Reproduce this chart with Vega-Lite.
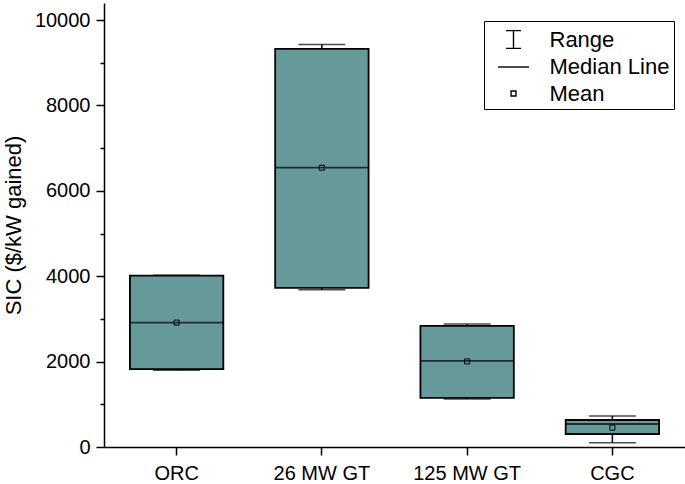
{
  "$schema": "https://vega.github.io/schema/vega-lite/v6.json",
  "width": 581,
  "height": 444,
  "autosize": {"type": "none"},
  "padding": {"left": 104, "top": 3, "right": 0, "bottom": 37},
  "background": "white",
  "config": {
    "view": {"stroke": null},
    "font": "Liberation Sans",
    "axis": {"domainColor": "black", "domainWidth": 1.5, "tickColor": "black", "tickWidth": 1.5, "labelColor": "black", "titleColor": "black", "grid": false, "labelFont": "Liberation Sans", "titleFont": "Liberation Sans"}
  },
  "datasets": {
    "boxes": [
      {"group": "ORC", "min": 1800, "q1": 1822, "median": 2914, "q3": 4016, "max": 4025, "mean": 2914},
      {"group": "26 MW GT", "min": 3681, "q1": 3728, "median": 6542, "q3": 9325, "max": 9426, "mean": 6542},
      {"group": "125 MW GT", "min": 1125, "q1": 1149, "median": 2016, "q3": 2837, "max": 2884, "mean": 2005},
      {"group": "CGC", "min": 101, "q1": 305, "median": 539, "q3": 633, "max": 727, "mean": 453}
    ],
    "legendItems": [
      {"item": "Range"},
      {"item": "Median Line"},
      {"item": "Mean"}
    ]
  },
  "layer": [
    {
      "data": {"name": "boxes"},
      "mark": {"type": "rule", "color": "black", "strokeWidth": 1.5},
      "encoding": {
        "x": {
          "field": "group", "type": "nominal", "sort": null,
          "scale": {"paddingInner": 0, "paddingOuter": 0},
          "axis": {"title": null, "labelAngle": 0, "labelFontSize": 20, "tickSize": 8, "labelPadding": 8, "domainWidth": 1.5}
        },
        "y": {
          "field": "min", "type": "quantitative",
          "scale": {"domain": [0, 10400], "nice": false, "zero": false},
          "axis": {
            "title": "SIC ($/kW gained)",
            "titleFontSize": 22, "titleFontWeight": "normal", "titlePadding": 9,
            "values": [0, 1000, 2000, 3000, 4000, 5000, 6000, 7000, 8000, 9000, 10000],
            "labelExpr": "datum.value % 2000 === 0 ? datum.label : ''",
            "format": "d",
            "labelFontSize": 20, "labelPadding": 6,
            "tickSize": {"condition": {"test": "datum.value % 2000 === 0", "value": 8}, "value": 4}
          }
        },
        "y2": {"field": "max"}
      }
    },
    {
      "data": {"name": "boxes"},
      "mark": {"type": "tick", "color": "black", "size": 47, "thickness": 1.5},
      "encoding": {
        "x": {"field": "group", "type": "nominal", "sort": null},
        "y": {"field": "max", "type": "quantitative"}
      }
    },
    {
      "data": {"name": "boxes"},
      "mark": {"type": "tick", "color": "black", "size": 47, "thickness": 1.5},
      "encoding": {
        "x": {"field": "group", "type": "nominal", "sort": null},
        "y": {"field": "min", "type": "quantitative"}
      }
    },
    {
      "data": {"name": "boxes"},
      "mark": {"type": "bar", "fill": "#669999", "stroke": "black", "strokeWidth": 1.8, "width": {"band": 0.643}},
      "encoding": {
        "x": {"field": "group", "type": "nominal", "sort": null},
        "y": {"field": "q1", "type": "quantitative"},
        "y2": {"field": "q3"}
      }
    },
    {
      "data": {"name": "boxes"},
      "mark": {"type": "tick", "color": "black", "size": 93, "thickness": 1.8},
      "encoding": {
        "x": {"field": "group", "type": "nominal", "sort": null},
        "y": {"field": "median", "type": "quantitative"}
      }
    },
    {
      "data": {"name": "boxes"},
      "mark": {"type": "point", "shape": "square", "size": 25, "filled": false, "stroke": "black", "strokeWidth": 1, "opacity": 1},
      "encoding": {
        "x": {"field": "group", "type": "nominal", "sort": null},
        "y": {"field": "mean", "type": "quantitative"}
      }
    },
    {
      "data": {"name": "legendItems"},
      "mark": {"type": "point", "filled": false, "color": "black", "opacity": 0},
      "encoding": {
        "shape": {
          "field": "item", "type": "nominal",
          "scale": {
            "domain": ["Range", "Median Line", "Mean"],
            "range": [
              "M0,-0.68L0,0.68M-0.58,-0.68L0.58,-0.68M-0.58,0.68L0.58,0.68",
              "M-1.19,0L1.19,0",
              "M-0.19,-0.19L0.19,-0.19L0.19,0.19L-0.19,0.19Z"
            ]
          },
          "legend": {
            "title": null,
            "orient": "none",
            "legendX": 380,
            "legendY": 18,
            "padding": 4.5,
            "strokeColor": "black",
            "symbolSize": 676,
            "symbolStrokeWidth": 1.4,
            "symbolStrokeColor": "black",
            "symbolFillColor": "transparent",
            "symbolOffset": 11,
            "symbolOpacity": 1,
            "labelOffset": 22,
            "labelFontSize": 22,
            "labelFont": "Liberation Sans",
            "labelColor": "black",
            "rowPadding": 1.5,
            "labelLimit": 300
          }
        }
      }
    }
  ]
}
